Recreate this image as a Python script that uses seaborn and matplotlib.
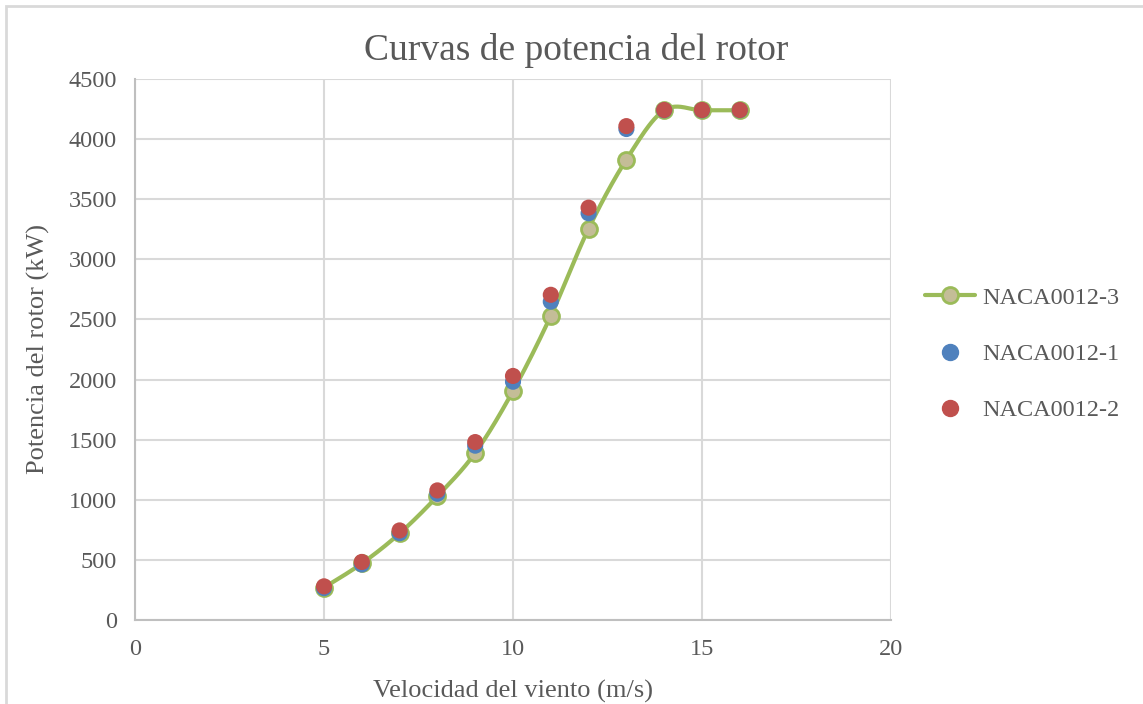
"""Curvas de potencia del rotor (estilo Excel)."""

import matplotlib.pyplot as plt
import numpy as np
import pandas as pd
import seaborn as sns
from matplotlib.lines import Line2D
from matplotlib.patches import Rectangle

# Datos
velocidad = [5, 6, 7, 8, 9, 10, 11, 12, 13, 14, 15, 16]
naca_3 = [270, 470, 720, 1030, 1390, 1905, 2530, 3255, 3830, 4240, 4240, 4240]
naca_1 = [265, 462, 722, 1050, 1450, 1982, 2648, 3383, 4084, 4240, 4240, 4240]
naca_2 = [280, 483, 745, 1078, 1480, 2030, 2705, 3430, 4108, 4242, 4242, 4242]
series_names = ["NACA0012-3", "NACA0012-1", "NACA0012-2"]

GREEN = "#9BBB59"
TAN = "#C4BD97"
BLUE = "#4F81BD"
RED = "#C0504D"
TEXT = "#595959"
GRID = "#D9D9D9"


def excel_smooth(x, y, n=40):
    """Curva suavizada tipo Excel (Bezier cúbica con tangentes Catmull-Rom/6)."""
    p = np.column_stack([x, y]).astype(float)
    pts = np.vstack([p[0], p, p[-1]])
    out = []
    t = np.linspace(0, 1, n)[:, None]
    for i in range(1, len(pts) - 2):
        p0, p1 = pts[i], pts[i + 1]
        c1 = p0 + (pts[i + 1] - pts[i - 1]) / 6
        c2 = p1 - (pts[i + 2] - pts[i]) / 6
        seg = ((1 - t) ** 3) * p0 + 3 * ((1 - t) ** 2) * t * c1 + 3 * (1 - t) * t ** 2 * c2 + t ** 3 * p1
        out.append(seg if i == 1 else seg[1:])
    curve = np.vstack(out)
    return curve[:, 0], curve[:, 1]


sns.set_theme(style="white")
plt.rcParams["font.family"] = ["Liberation Serif", "DejaVu Serif"]

fig = plt.figure(figsize=(11.43, 7.04), dpi=100)
ax = fig.add_axes([135 / 1143, 1 - 620 / 704, (891 - 135) / 1143, (620 - 79) / 704])

sx, sy = excel_smooth(velocidad, naca_3)
curve = pd.DataFrame({"x": sx, "y": sy})
sns.lineplot(data=curve, x="x", y="y", color=GREEN, lw=3, sort=False, ax=ax, zorder=3)
ax.plot(velocidad, naca_3, ls="none", marker="o", ms=11.5, mfc=TAN, mec=GREEN, mew=2, zorder=4)
sns.scatterplot(x=velocidad, y=naca_1, color=BLUE, s=135, edgecolor="none", ax=ax, zorder=5)
sns.scatterplot(x=velocidad, y=naca_2, color=RED, s=135, edgecolor="none", ax=ax, zorder=6)

ax.set_xlim(0, 20)
ax.set_ylim(0, 4500)
ax.set_xticks(np.arange(0, 21, 5))
ax.set_yticks(np.arange(0, 4501, 500))
ax.grid(True, color=GRID, lw=1.5)
ax.set_axisbelow(True)
for side in ["top", "right"]:
    ax.spines[side].set_visible(False)
for side in ["left", "bottom"]:
    ax.spines[side].set_color("#BFBFBF")
    ax.spines[side].set_linewidth(1.5)
ax.tick_params(colors=TEXT, labelsize=17.5, length=0)
ax.tick_params(axis="x", pad=14)
ax.tick_params(axis="y", pad=13)
ax.set_xlabel("Velocidad del viento (m/s)", fontsize=19, color=TEXT, labelpad=14)
ax.set_ylabel("Potencia del rotor (kW)", fontsize=19, color=TEXT, labelpad=13)
fig.text(576 / 1143, 1 - 51 / 704, "Curvas de potencia del rotor", fontsize=27, color=TEXT,
         ha="center", va="center")

handles = [
    Line2D([], [], color=GREEN, lw=3, marker="o", ms=11.5, mfc=TAN, mec=GREEN, mew=2),
    Line2D([], [], ls="none", marker="o", ms=11.5, color=BLUE),
    Line2D([], [], ls="none", marker="o", ms=11.5, color=RED),
]
fig.legend(handles, series_names, loc="center left", bbox_to_anchor=(903 / 1143, 1 - 354 / 704),
           frameon=False, fontsize=17.5, labelcolor=TEXT, handlelength=2.05,
           handletextpad=0.3, labelspacing=1.4)

fig.add_artist(Rectangle((6 / 1143, -0.1), 1.2, 1 - 6 / 704 + 0.1, transform=fig.transFigure,
                         fill=False, edgecolor=GRID, lw=2))

fig.savefig("out.png", dpi=100)
plt.close(fig)
